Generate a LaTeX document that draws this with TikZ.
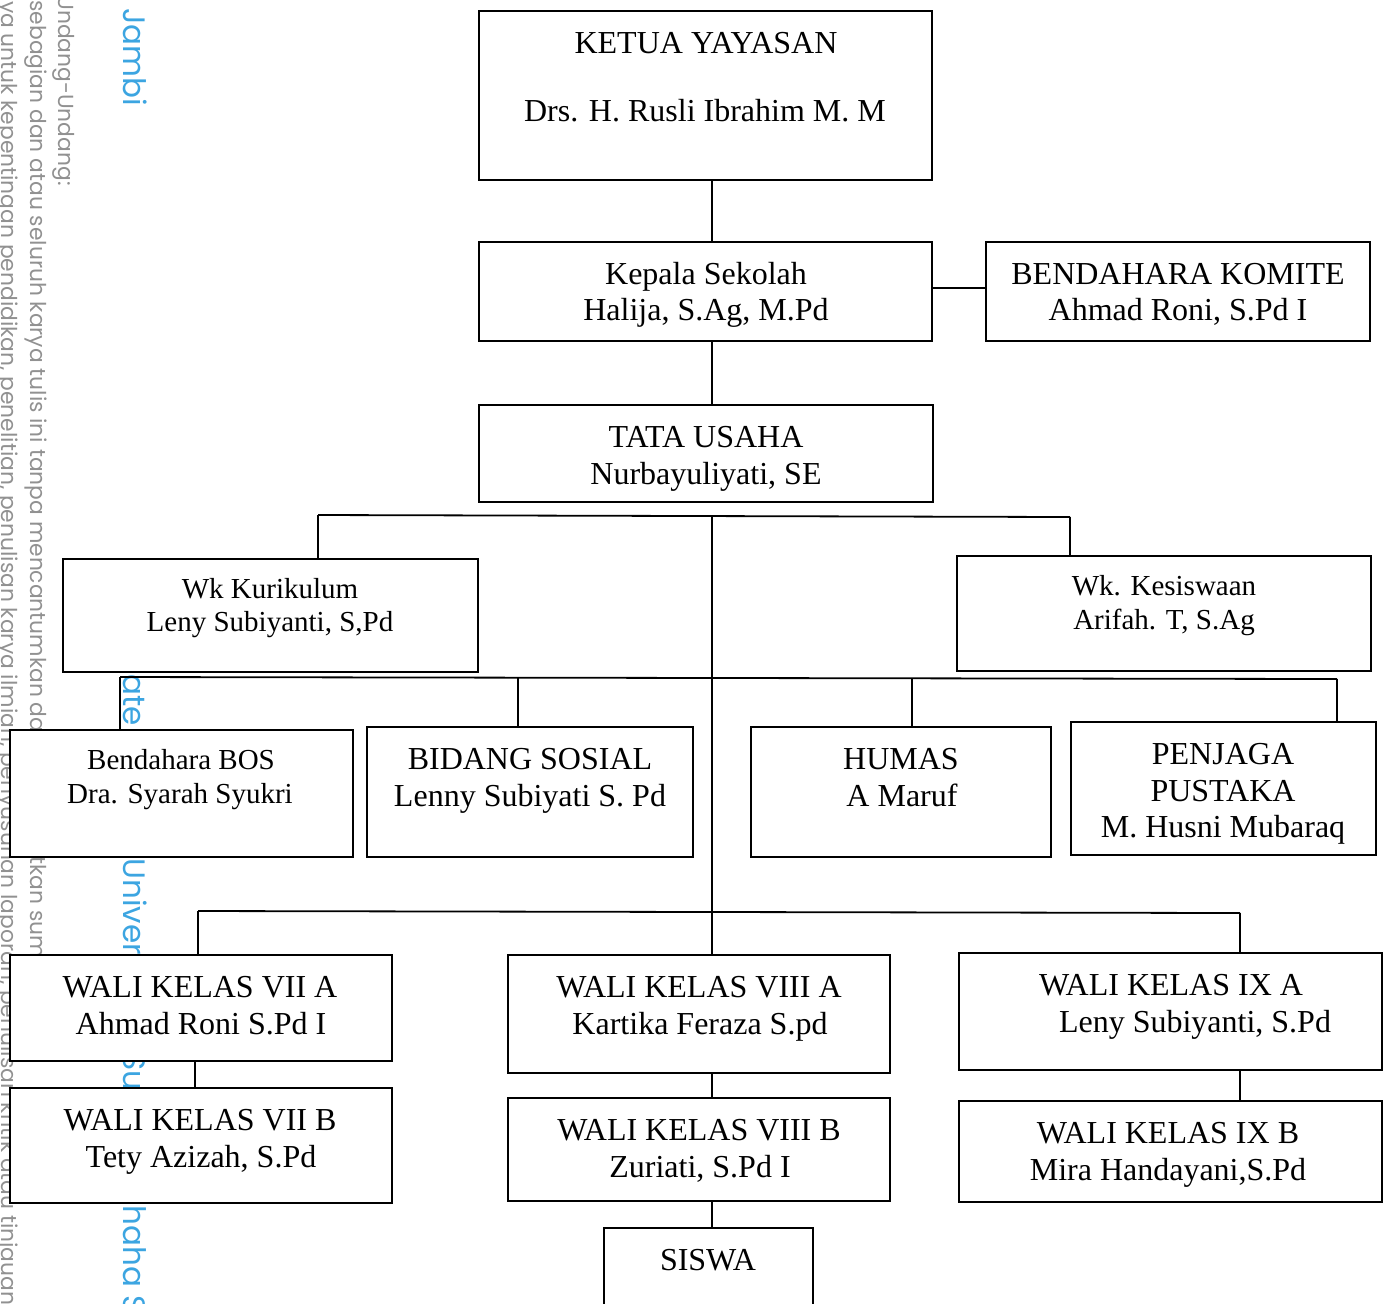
\documentclass[tikz,border=0pt]{standalone}
\usepackage{fontspec}
\setmainfont{Liberation Serif}
\newfontfamily\wmfont{Poppins}
\usetikzlibrary{fit}
\definecolor{wmgray}{RGB}{145,145,145}
\definecolor{wmblue}{RGB}{60,165,225}
\tikzset{
 orgbox/.style={draw=black, fill=white, line width=1pt, inner sep=0pt, outer sep=0pt},
 big/.style={anchor=base, font=\fontsize{16}{18}\selectfont, inner sep=0pt},
 small/.style={anchor=base, font=\fontsize{14.5}{17}\selectfont, inner sep=0pt},
 link/.style={draw=black, line width=0.9pt},
 wmg/.style={rotate=-90, anchor=base west, inner sep=0pt, text=wmgray, font=\wmfont\fontsize{10.9}{12}\selectfont},
 wmb/.style={rotate=-90, anchor=base west, inner sep=0pt, text=wmblue, font=\wmfont\fontsize{15.5}{18}\selectfont},
}
\newcommand\orgbox[5]{\node[orgbox, fit={(#2,#3) (#4,#5)}] (#1) {};}
\begin{document}
\begin{tikzpicture}[x=0.5pt,y=-0.5pt]
\useasboundingbox (0,0) rectangle (1386,1303);
% watermark
\node[wmg] (wm1) at (58,-5) {Undang-Undang:};
\node[wmg] (wm2) at (30,0) {sebagian dan atau seluruh karya tulis ini tanpa mencantumkan dan menyebutkan sumber asli:};
\node[wmg] (wm3) at (2,-42) {hanya untuk kepentingan pendidikan, penelitian, penulisan karya ilmiah, penyusunan laporan, penulisan kritik atau tinjauan suatu masalah.};
\node[wmb] (wb1) at (123,8) {Jambi};
\node[wmb] (wb2) at (123,674) {ate};
\node[wmb] (wb3) at (123,858) {Univers};
\node[wmb] (wb4) at (123,1052) {Su};
\node[wmb] (wb5) at (123,1205) {haha S};
% boxes
\orgbox{ketua}{479}{11}{932}{180}
\orgbox{kepala}{479}{242}{932}{341}
\orgbox{bk}{986}{242}{1370}{341}
\orgbox{tu}{479}{405}{933}{502}
\orgbox{kur}{63}{559}{478}{672}
\orgbox{kes}{957}{556}{1371}{671}
\orgbox{bos}{10}{730}{353}{857}
\orgbox{sos}{367}{727}{693}{857}
\orgbox{hum}{751}{727}{1051}{857}
\orgbox{pus}{1071}{722}{1376}{855}
\orgbox{wsa}{10}{955}{392}{1061}
\orgbox{wsb}{10}{1088}{392}{1203}
\orgbox{wea}{508}{955}{890}{1073}
\orgbox{web}{508}{1098}{890}{1201}
\orgbox{sis}{604}{1228}{813}{1330}
\orgbox{wna}{959}{953}{1382}{1070}
\orgbox{wnb}{959}{1101}{1382}{1202}
% texts
\node[big] (t1) at (706,53) {KETUA YAYASAN};
\node[big] (t2) at (705,121) {Drs. H. Rusli Ibrahim M. M};
\node[big] (t3) at (706,284) {Kepala Sekolah};
\node[big] (t4) at (706,320) {Halija, S.Ag, M.Pd};
\node[big] (t5) at (1178,284) {BENDAHARA KOMITE};
\node[big] (t6) at (1178,320) {Ahmad Roni, S.Pd I};
\node[big] (t7) at (706,447) {TATA USAHA};
\node[big] (t8) at (706,484) {Nurbayuliyati, SE};
\node[small] (t9) at (270,598) {Wk Kurikulum};
\node[small] (t10) at (270,631) {Leny Subiyanti, S,Pd};
\node[small] (t11) at (1164,595) {Wk. Kesiswaan};
\node[small] (t12) at (1164,629) {Arifah. T, S.Ag};
\node[small] (t13) at (181,769) {Bendahara BOS};
\node[small] (t14) at (180,803) {Dra. Syarah Syukri};
\node[big] (t15) at (530,769) {BIDANG SOSIAL};
\node[big] (t16) at (530,806) {Lenny Subiyati S. Pd};
\node[big] (t17) at (901,769) {HUMAS};
\node[big] (t18) at (902,806) {A Maruf};
\node[big] (t19) at (1223,764) {PENJAGA};
\node[big] (t20) at (1223,801) {PUSTAKA};
\node[big] (t21) at (1223,837) {M. Husni Mubaraq};
\node[big] (t22) at (200,997) {WALI KELAS VII A};
\node[big] (t23) at (201,1034) {Ahmad Roni S.Pd I};
\node[big] (t24) at (200,1130) {WALI KELAS VII B};
\node[big] (t25) at (201,1167) {Tety Azizah, S.Pd};
\node[big] (t26) at (699,997) {WALI KELAS VIII A};
\node[big] (t27) at (700,1034) {Kartika Feraza S.pd};
\node[big] (t28) at (699,1140) {WALI KELAS VIII B};
\node[big] (t29) at (700,1177) {Zuriati, S.Pd I};
\node[big] (t30) at (708,1270) {SISWA};
\node[big] (t31) at (1171,995) {WALI KELAS IX A};
\node[big] (t32) at (1195,1032) {Leny Subiyanti, S.Pd};
\node[big] (t33) at (1168,1143) {WALI KELAS IX B};
\node[big] (t34) at (1168,1180) {Mira Handayani,S.Pd};
% connectors
\coordinate (spine) at (712,516);
\coordinate (kb) at (932,288);
\draw[link] (ketua.south -| spine) -- (kepala.north -| spine);
\draw[link] (kb) -- (kb -| bk.west);
\draw[link] (kepala.south -| spine) -- (tu.north -| spine);
\coordinate (aL) at (318,515);
\coordinate (aR) at (1070,517);
\draw[link] (aL) -- (aR);
\draw[link] (aL) -- (aL |- kur.north);
\draw[link] (aR) -- (aR |- kes.north);
\draw[link] (spine) -- (spine |- wea.north);
\coordinate (bL) at (120,677);
\coordinate (bS) at (518,678);
\coordinate (bH) at (912,678);
\coordinate (bR) at (1337,679);
\draw[link] (bL) -- (bR);
\draw[link] (bL) -- (bL |- bos.north);
\draw[link] (bS) -- (bS |- sos.north);
\draw[link] (bH) -- (bH |- hum.north);
\draw[link] (bR) -- (bR |- pus.north);
\coordinate (cL) at (198,911);
\coordinate (cR) at (1240,913);
\draw[link] (cL) -- (cR);
\draw[link] (cL) -- (cL |- wsa.north);
\draw[link] (cR) -- (cR |- wna.north);
\draw[link] ([xshift=-3pt]wsa.south) -- ([xshift=-3pt]wsb.north);
\draw[link] (wea.south -| spine) -- (web.north -| spine);
\draw[link] (web.south -| spine) -- (sis.north -| spine);
\draw[link] (wna.south -| cR) -- (wnb.north -| cR);
\end{tikzpicture}
\end{document}
